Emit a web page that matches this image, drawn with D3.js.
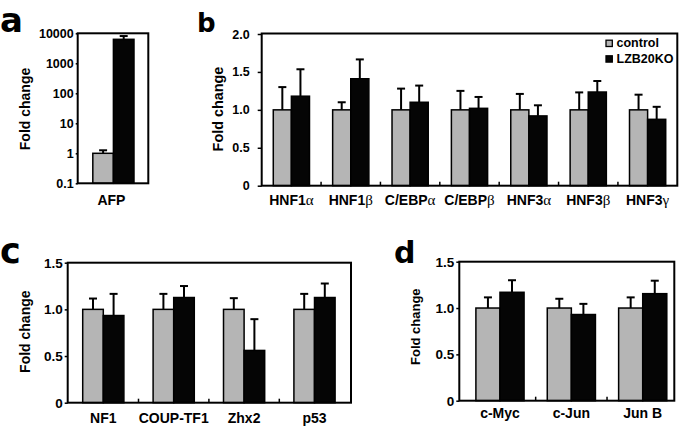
<!DOCTYPE html>
<html><head><meta charset="utf-8">
<script src="https://cdn.jsdelivr.net/npm/d3@7"></script>
<style>body{margin:0;background:#fff}svg{display:block}</style>
</head><body>
<svg id="chart" width="685" height="427"></svg>
<script>
// ---- data ----
const series = ["control", "LZB20KO"];
const colors = ["#b5b5b5", "#050505"];

const catsA = ["AFP"];
const ctrlA = [1.0];
const ctrlErrA = [0.26];
const koA = [6300];
const koErrA = [1800];
const ticksA = [0.1, 1, 10, 100, 1000, 10000];

const catsB = ["HNF1α", "HNF1β", "C/EBPα", "C/EBPβ", "HNF3α", "HNF3β", "HNF3γ"];
const ctrlB = [1, 1, 1, 1, 1, 1, 1];
const ctrlErrB = [0.30, 0.10, 0.28, 0.25, 0.21, 0.23, 0.20];
const koB = [1.18, 1.41, 1.10, 1.02, 0.92, 1.235, 0.875];
const koErrB = [0.355, 0.255, 0.22, 0.15, 0.14, 0.145, 0.165];
const ticksB = [0, 0.5, 1.0, 1.5, 2.0];

const catsC = ["NF1", "COUP-TF1", "Zhx2", "p53"];
const ctrlC = [1, 1, 1, 1];
const ctrlErrC = [0.116, 0.166, 0.12, 0.166];
const koC = [0.934, 1.127, 0.56, 1.127];
const koErrC = [0.232, 0.123, 0.335, 0.15];
const ticksC = [0, 0.5, 1.0, 1.5];

const catsD = ["c-Myc", "c-Jun", "Jun B"];
const ctrlD = [1, 1, 1];
const ctrlErrD = [0.115, 0.10, 0.115];
const koD = [1.17, 0.93, 1.155];
const koErrD = [0.13, 0.115, 0.14];
const ticksD = [0, 0.5, 1.0, 1.5];

const svg = d3.select("#chart");
const FONT = "'Liberation Sans', Arial, sans-serif";
const greek = /[α-ωΑ-Ω]$/;

function fmtTick(v) { return v === 0 ? "0" : (v < 1 && v > 0 && v !== 0.5) ? String(v) : d3.format(".1f")(v); }

function panel(o) {
  const g = svg.append("g");
  const x = d3.scaleBand().domain(o.cats).range(o.xr).paddingInner(0).paddingOuter(0);
  const bw = x.bandwidth();
  const x1 = d3.scaleBand().domain(series).range([bw * (1 - o.f) / 2, bw * (1 + o.f) / 2]);
  const y = o.y;
  const base = o.log ? y.domain()[0] : 0;

  // axis ticks + labels
  const ax = g.append("g").attr("transform", `translate(${o.box[0]},0)`)
    .call(d3.axisLeft(y).tickValues(o.ticks).tickSize(o.tickSize).tickPadding(o.tickPad)
      .tickFormat(o.tickFmt));
  ax.select(".domain").remove();
  ax.selectAll("line").attr("stroke", "#000").attr("stroke-width", 1.5);
  ax.selectAll("text").attr("font-family", FONT).attr("font-weight", "bold")
    .attr("font-size", o.tickFont).attr("fill", "#000");

  // bars
  const rows = o.cats.map((c, i) => ({ cat: c, vals: [
    { s: series[0], v: o.ctrl[i], e: o.ctrlErr[i] },
    { s: series[1], v: o.ko[i], e: o.koErr[i] }] }));
  const grp = g.selectAll("g.cat").data(rows).join("g")
    .attr("transform", d => `translate(${x(d.cat)},0)`);
  grp.selectAll("rect").data(d => d.vals).join("rect")
    .attr("x", d => x1(d.s)).attr("width", x1.bandwidth())
    .attr("y", d => y(d.v)).attr("height", d => y(base) - y(d.v))
    .attr("fill", (d, i) => colors[i]).attr("stroke", "#000").attr("stroke-width", 1.5);
  // error bars
  grp.selectAll("line.err").data(d => d.vals).join("line").attr("class", "err")
    .attr("x1", d => x1(d.s) + x1.bandwidth() / 2).attr("x2", d => x1(d.s) + x1.bandwidth() / 2)
    .attr("y1", d => y(d.v)).attr("y2", d => y(d.v + d.e))
    .attr("stroke", "#000").attr("stroke-width", 2);
  grp.selectAll("line.cap").data(d => d.vals).join("line").attr("class", "cap")
    .attr("x1", d => x1(d.s) + x1.bandwidth() / 2 - 4).attr("x2", d => x1(d.s) + x1.bandwidth() / 2 + 4)
    .attr("y1", d => y(d.v + d.e)).attr("y2", d => y(d.v + d.e))
    .attr("stroke", "#000").attr("stroke-width", 2);

  // category dividers
  o.cats.slice(1).forEach(c => {
    g.append("line").attr("x1", x(c)).attr("x2", x(c))
      .attr("y1", o.box[3]).attr("y2", o.box[3] - 4)
      .attr("stroke", "#000").attr("stroke-width", 1.5);
  });

  // frame
  g.append("rect").attr("x", o.box[0]).attr("y", o.box[1])
    .attr("width", o.box[2] - o.box[0]).attr("height", o.box[3] - o.box[1])
    .attr("fill", "none").attr("stroke", "#000").attr("stroke-width", 2);

  // category labels
  o.cats.forEach(c => {
    const t = g.append("text").attr("x", x(c) + bw / 2 + (o.labDx || 0)).attr("y", o.labY)
      .attr("text-anchor", "middle").attr("font-family", FONT).attr("font-weight", "bold")
      .attr("font-size", o.labFont).attr("fill", "#000");
    if (greek.test(c)) {
      t.append("tspan").text(c.slice(0, -1));
      t.append("tspan").text(c.slice(-1)).attr("font-family", "'Liberation Serif', serif")
        .attr("font-weight", "normal").attr("font-size", o.labFont + 1);
    } else t.text(c);
  });

  // y title
  g.append("text").attr("transform", `translate(${o.titleX},${o.titleY}) rotate(-90)`)
    .attr("text-anchor", "middle").attr("dy", "0.35em").attr("font-family", FONT)
    .attr("font-weight", "bold").attr("font-size", o.titleFont).attr("fill", "#000")
    .text("Fold change");

  // panel letter
  svg.append("text").attr("x", o.letter[0]).attr("y", o.letter[1])
    .attr("font-family", "'DejaVu Sans', sans-serif").attr("font-weight", "bold")
    .attr("font-size", o.letter[3]).attr("fill", "#000").text(o.letter[2]);
  return { g, x, y };
}

// panel a
panel({
  cats: catsA, ctrl: ctrlA, ctrlErr: ctrlErrA, ko: koA, koErr: koErrA,
  box: [77.7, 33.3, 148.3, 183.3], xr: [78.5, 148.3], f: 0.59,
  y: d3.scaleLog().domain([0.1, 10000]).range([183.3, 33.3]), log: true,
  ticks: ticksA, tickFmt: d => String(d), tickSize: 2, tickPad: 2, tickFont: 12.5,
  labY: 205, labFont: 14, labDx: -2,
  titleX: 25, titleY: 109, titleFont: 14,
  letter: [0, 32, "a", 34]
});

// panel b
const pb = panel({
  cats: catsB, ctrl: ctrlB, ctrlErr: ctrlErrB, ko: koB, koErr: koErrB,
  box: [261.7, 33.5, 677.3, 185.7], xr: [261.7, 677.3], f: 0.61,
  y: d3.scaleLinear().domain([0, 2]).range([185.7, 34]),
  ticks: ticksB, tickFmt: d => d === 0 ? "0" : d3.format(".1f")(d), tickSize: 4, tickPad: 8, tickFont: 12.5,
  labY: 205, labFont: 14,
  titleX: 217.5, titleY: 109, titleFont: 14.4,
  letter: [197, 32, "b", 26]
});

// legend (panel b)
const leg = svg.append("g");
series.forEach((s, i) => {
  leg.append("rect").attr("x", 606).attr("y", 40.2 + i * 15.6).attr("width", 6.3).attr("height", 6.3)
    .attr("fill", colors[i]).attr("stroke", "#000").attr("stroke-width", 1.3);
  leg.append("text").attr("x", 616.5).attr("y", 47.3 + i * 15.6)
    .attr("font-family", FONT).attr("font-weight", "bold").attr("font-size", 12.5)
    .attr("fill", "#000").text(s);
});

// panel c
panel({
  cats: catsC, ctrl: ctrlC, ctrlErr: ctrlErrC, ko: koC, koErr: koErrC,
  box: [67.7, 262.7, 351, 402.7], xr: [68.1, 349.7], f: 0.585,
  y: d3.scaleLinear().domain([0, 1.5]).range([402.7, 262.7]),
  ticks: ticksC, tickFmt: d => d === 0 ? "0" : d3.format(".1f")(d), tickSize: 3, tickPad: 2, tickFont: 13.5,
  labY: 423, labFont: 14,
  titleX: 25, titleY: 331.7, titleFont: 14,
  letter: [0, 262.5, "c", 35]
});

// panel d
panel({
  cats: catsD, ctrl: ctrlD, ctrlErr: ctrlErrD, ko: koD, koErr: koErrD,
  box: [459.3, 261.7, 674.3, 400.7], xr: [464.3, 678.4], f: 0.675,
  y: d3.scaleLinear().domain([0, 1.5]).range([400.7, 261.7]),
  ticks: ticksD, tickFmt: d => d === 0 ? "0" : d3.format(".1f")(d), tickSize: 3, tickPad: 2, tickFont: 13.5,
  labY: 418, labFont: 14,
  titleX: 415.5, titleY: 326.7, titleFont: 13,
  letter: [394, 262.5, "d", 30]
});
</script>
</body></html>
